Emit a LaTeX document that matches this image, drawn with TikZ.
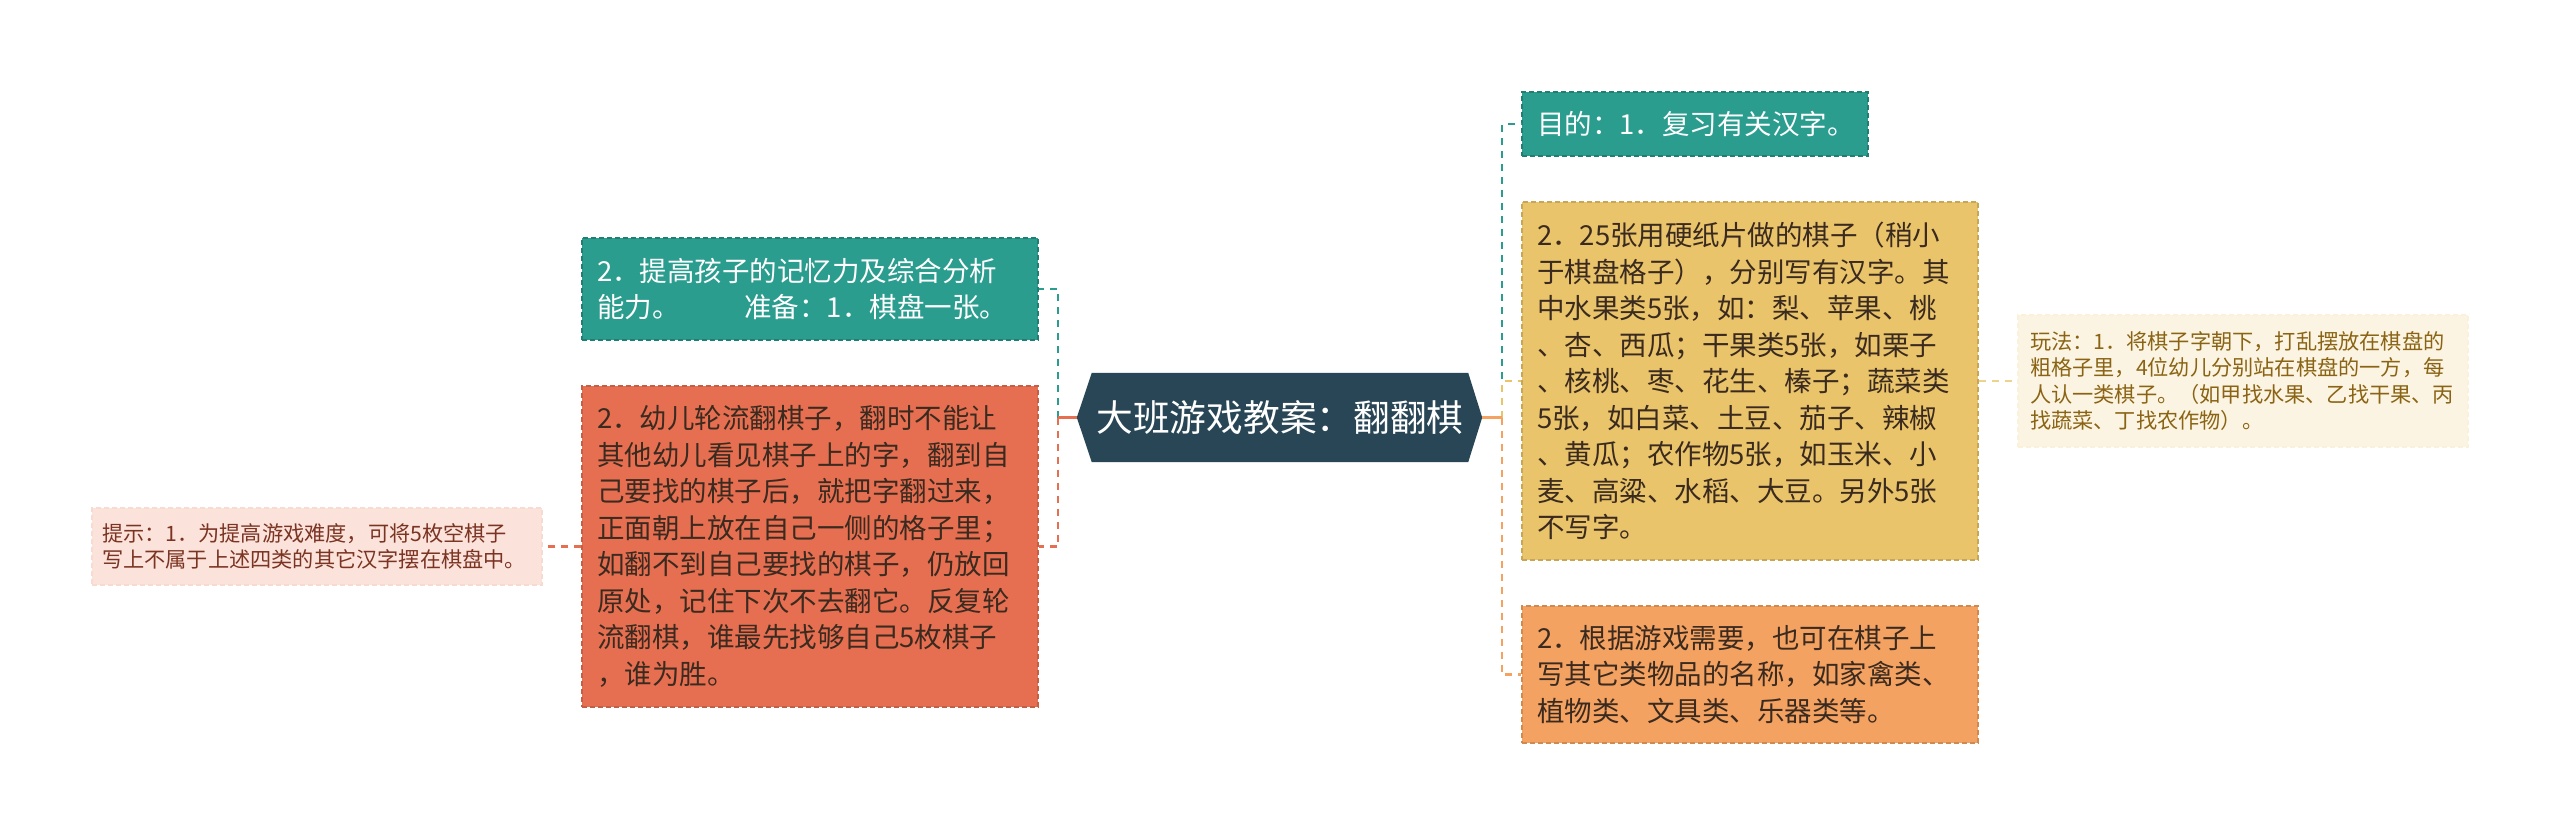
\documentclass[tikz,border=0pt]{standalone}
\usepackage{fontspec}
\newfontfamily\cjk{Noto Sans CJK SC}
\usetikzlibrary{calc}
\pgfdeclarelayer{background}
\pgfsetlayers{background,main}
\definecolor{cRoot}{HTML}{284655}
\definecolor{cTeal}{HTML}{2A9D8F}
\definecolor{cYel}{HTML}{E9C46A}
\definecolor{cOr}{HTML}{F4A261}
\definecolor{cRed}{HTML}{E76F51}
\definecolor{cDark}{HTML}{3A2A1F}
\definecolor{cTipFill}{HTML}{FBE3DC}
\definecolor{cTipText}{HTML}{7B3322}
\definecolor{cPlayFill}{HTML}{FCF4E2}
\definecolor{cPlayText}{HTML}{8A6414}
\begin{document}
\begin{tikzpicture}[x=1pt,y=-1pt,
  bigbox/.style={font={\cjk\fontsize{27.5pt}{36.5pt}\selectfont}, align=left,
    text width=426pt, inner xsep=15pt, inner ysep=0pt,
    line width=1.5pt, dash pattern=on 5pt off 3pt},
  smallbox/.style={font={\cjk\fontsize{21.2pt}{26.5pt}\selectfont}, align=left,
    inner ysep=0pt, line width=1.5pt, dash pattern=on 5pt off 3pt},
  conn/.style={line width=2.8pt, dash pattern=on 7pt off 6pt},
  stub/.style={line width=2.8pt}
]
\useasboundingbox (0,0) rectangle (2560,836);

% root
\node[font={\cjk\fontsize{36.7pt}{40pt}\selectfont}, text=white, minimum width=376pt,
  minimum height=89pt, inner sep=0pt] (root) at (1280,417.5) {大班游戏教案：翻翻棋};
\coordinate (rootL) at ([xshift=-15pt]root.west);
\coordinate (rootR) at ([xshift=14pt]root.east);
\begin{pgfonlayer}{background}
\fill[white] (0,0) rectangle (2560,836);
\fill[cRoot] (root.north west) -- (root.north east) -- (rootR) -- (root.south east)
  -- (root.south west) -- (rootL) -- cycle;
\end{pgfonlayer}

% left branch
\node[bigbox, fill=cTeal, draw=cTeal!80!black, text=white, minimum height=102pt]
  (L1) at (810,289) {2．提高孩子的记忆力及综合分析\\能力。\hspace{65pt}准备：1．棋盘一张。};
\node[bigbox, fill=cRed, draw=cRed!85!black, text=cDark, minimum height=321pt]
  (L2) at (810,546.5) {2．幼儿轮流翻棋子，翻时不能让\\其他幼儿看见棋子上的字，翻到自\\己要找的棋子后，就把字翻过来，\\正面朝上放在自己一侧的格子里；\\如翻不到自己要找的棋子，仍放回\\原处，记住下次不去翻它。反复轮\\流翻棋，谁最先找够自己5枚棋子\\，谁为胜。};
\node[smallbox, fill=cTipFill, draw=cTipFill!92!cRed, text=cTipText,
  text width=430pt, inner xsep=10pt, minimum height=77pt]
  (tip) at (317,546.5) {提示：1．为提高游戏难度，可将5枚空棋子\\写上不属于上述四类的其它汉字摆在棋盘中。};

% right branch
\node[bigbox, fill=cTeal, draw=cTeal!80!black, text=white, text width=316pt,
  minimum height=64pt] (R1) at (1695,124) {目的：1．复习有关汉字。};
\node[bigbox, fill=cYel, draw=cYel!85!black, text=cDark, minimum height=358pt]
  (R2) at (1750,381) {2．25张用硬纸片做的棋子（稍小\\于棋盘格子），分别写有汉字。其\\中水果类5张，如：梨、苹果、桃\\、杏、西瓜；干果类5张，如栗子\\、核桃、枣、花生、榛子；蔬菜类\\5张，如白菜、土豆、茄子、辣椒\\、黄瓜；农作物5张，如玉米、小\\麦、高粱、水稻、大豆。另外5张\\不写字。};
\node[bigbox, fill=cOr, draw=cOr!85!black, text=cDark, minimum height=137pt]
  (R3) at (1750,674.5) {2．根据游戏需要，也可在棋子上\\写其它类物品的名称，如家禽类、\\植物类、文具类、乐器类等。};
\node[smallbox, fill=cPlayFill, draw=cPlayFill!94!cYel, text=cPlayText,
  text width=426pt, inner xsep=12pt, minimum height=132pt]
  (play) at (2243,381) {玩法：1．将棋子字朝下，打乱摆放在棋盘的\\粗格子里，4位幼儿分别站在棋盘的一方，每\\人认一类棋子。（如甲找水果、乙找干果、丙\\找蔬菜、丁找农作物）。};

% connectors
\coordinate (lt) at (1058,417.5);
\coordinate (rt) at (1502,417.5);
\draw[conn, cTeal] (lt) |- (L1.east);
\draw[conn, cRed] (lt) |- (L2.east);
\draw[stub, cRed] (rootL) -- (lt);
\draw[conn, cRed] (L2.west) -- (tip.east);

\draw[conn, cTeal] (rt) |- (R1.west);
\draw[conn, cYel] (rt) |- (R2.west);
\draw[conn, cOr] (rt) |- (R3.west);
\draw[stub, cOr] (rootR) -- (rt);
\draw[conn, cYel!75!white] (R2.east) -- (play.west);
\end{tikzpicture}
\end{document}
